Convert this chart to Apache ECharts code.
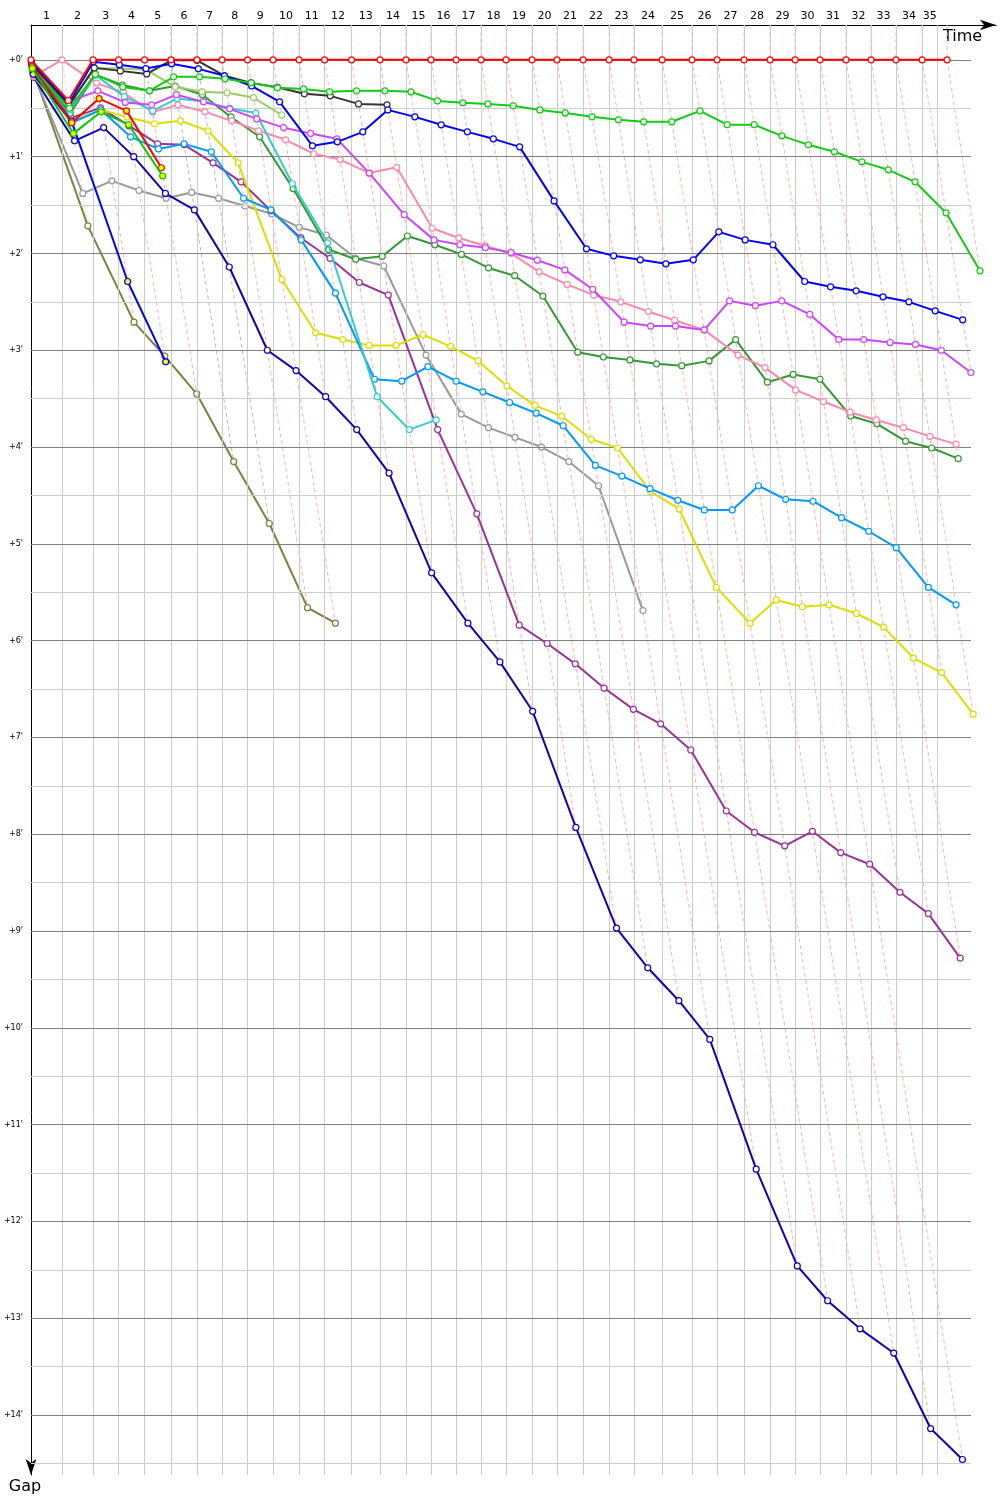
<!DOCTYPE html>
<html><head><meta charset="utf-8">
<script src="https://cdn.jsdelivr.net/npm/echarts@6/dist/echarts.min.js"></script>
<style>html,body{margin:0;padding:0;background:#fff}#c{width:1000px;height:1500px}</style>
</head><body><div id="c"></div>
<script>
// ---- data (minutes) ----
const timeLimit = 60;
// leader's cumulative race time at the end of each lap (lap 1..35)
const leaderTimes = [2.05, 4.11, 5.80, 7.52, 9.27, 10.99, 12.65, 14.34, 16.03, 17.75, 19.44, 21.23, 23.11, 24.83, 26.49, 28.15, 29.80, 31.46, 33.18, 34.83, 36.56, 38.28, 39.93, 41.79, 43.77, 45.43, 47.22, 48.94, 50.60, 52.25, 53.97, 55.63, 57.28, 59.01, 60.66];
const lapLabels = ['1','2','3','4','5','6','7','8','9','10','11','12','13','14','15','16','17','18','19','20','21','22','23','24','25','26','27','28','29','30','31','32','33','34','35'];
const gapTicks = [0,1,2,3,4,5,6,7,8,9,10,11,12,13,14];
const grayLaps = [5, 6];

// gap to leader (minutes) at the start (index 0) and after each lap
const gRed     = [0, .42, 0,0,0,0,0,0,0,0,0,0,0,0,0,0,0,0,0,0,0,0,0,0,0,0,0,0,0,0,0,0,0,0,0,0];
const gGreen   = [.1, .50, .15, .28, .32, .175, .175, .196, .238, .289, .30, .33, .32, .32, .33, .424, .444, .455, .475, .517, .548, .589, .62, .64, .64, .527, .67, .67, .785, .878, .95, 1.054, 1.136, 1.26, 1.58, 2.18];
const gBlue    = [.02, .45, .02, .05, .09, .04, .093, .165, .27, .434, .888, .847, .744, .517, .589, .671, .744, .816, .899, 1.457, 1.952, 2.025, 2.066, 2.107, 2.066, 1.777, 1.86, 1.91, 2.29, 2.345, 2.386, 2.448, 2.5, 2.593, 2.686];
const gDarkGray= [.05, .47, .083, .114, .145, .005, .005, .165, .238, .284, .351, .372, .455, .465];
const gLtGreen = [.08, .47, .083, .09, .10, .279, .33, .34, .39, .57];
const gMagenta = [.04, .43, .32, .44, .465, .36, .434, .506, .61, .70, .76, .816, 1.17, 1.60, 1.86, 1.91, 1.94, 1.99, 2.07, 2.17, 2.37, 2.71, 2.75, 2.75, 2.79, 2.49, 2.54, 2.49, 2.63, 2.89, 2.89, 2.92, 2.94, 3.0, 3.23];
const gCyan    = [.06, .52, .155, .38, .527, .40, .43, .50, .55, 1.28, 1.89, 3.48, 3.82, 3.72];
const gPink    = [.17, 0, .24, .34, .54, .465, .537, .63, .733, .826, .97, 1.03, 1.17, 1.11, 1.74, 1.84, 1.92, 2.0, 2.19, 2.32, 2.43, 2.5, 2.6, 2.69, 2.79, 3.05, 3.18, 3.41, 3.53, 3.64, 3.72, 3.80, 3.89, 3.97];
const gDkGreen = [.1, .55, .155, .26, .32, .27, .36, .59, .795, 1.33, 1.96, 2.06, 2.03, 1.82, 1.91, 2.01, 2.15, 2.23, 2.44, 3.02, 3.07, 3.10, 3.14, 3.16, 3.11, 2.89, 3.33, 3.25, 3.30, 3.68, 3.76, 3.94, 4.01, 4.12];
const gLtBlue  = [.13, .65, .517, .795, .92, .868, .95, 1.43, 1.55, 1.86, 2.41, 3.30, 3.32, 3.17, 3.32, 3.43, 3.54, 3.65, 3.78, 4.19, 4.30, 4.43, 4.55, 4.65, 4.65, 4.40, 4.54, 4.56, 4.73, 4.87, 5.04, 5.45, 5.63];
const gYellow  = [.17, .63, .517, .59, .66, .63, .733, 1.064, 2.27, 2.82, 2.89, 2.95, 2.95, 2.84, 2.96, 3.11, 3.37, 3.57, 3.68, 3.92, 4.01, 4.46, 4.64, 5.45, 5.82, 5.58, 5.65, 5.63, 5.72, 5.86, 6.18, 6.33, 6.76];
const gPurple  = [.12, .6, .496, .68, .868, .878, 1.064, 1.26, 1.56, 1.84, 2.05, 2.30, 2.43, 3.82, 4.69, 5.84, 6.03, 6.24, 6.49, 6.71, 6.86, 7.13, 7.76, 7.98, 8.12, 7.97, 8.19, 8.31, 8.6, 8.82, 9.28];
const gNavy    = [.18, .837, .70, 1.0, 1.38, 1.55, 2.14, 3.0, 3.21, 3.48, 3.82, 4.27, 5.3, 5.82, 6.22, 6.73, 7.93, 8.97, 9.38, 9.72, 10.12, 11.46, 12.46, 12.82, 13.11, 13.36, 14.14, 14.46];
const gGray    = [.14, 1.38, 1.25, 1.35, 1.43, 1.37, 1.43, 1.51, 1.59, 1.73, 1.81, 2.05, 2.13, 3.05, 3.66, 3.80, 3.9, 4.0, 4.15, 4.40, 5.69];
const gOlive   = [.1, 1.715, 2.71, 3.06, 3.45, 4.15, 4.79, 5.66, 5.82];
const gRedY    = [.07, .65, .40, .527, 1.115];
const gGreenY  = [.09, .76, .537, .67, 1.2];
const gBlueY   = [.15, .63, 2.29, 3.12];

const drivers = [
  {g: gOlive,   c: '#7f7f3f'},
  {g: gGray,    c: '#999999'},
  {g: gNavy,    c: '#1500b4'},
  {g: gPurple,  c: '#993399'},
  {g: gYellow,  c: '#dddd00'},
  {g: gLtBlue,  c: '#0099ff'},
  {g: gDkGreen, c: '#339933'},
  {g: gPink,    c: '#ff88aa'},
  {g: gCyan,    c: '#33cccc'},
  {g: gMagenta, c: '#cc44ff'},
  {g: gLtGreen, c: '#99cc66'},
  {g: gDarkGray,c: '#333333'},
  {g: gBlue,    c: '#0000ff'},
  {g: gGreen,   c: '#11cc11'},
  {g: gBlueY,   c: '#0000ff', fill: '#ffff00'},
  {g: gRedY,    c: '#ff0000', fill: '#ffff00'},
  {g: gGreenY,  c: '#00cc00', fill: '#ffff00'},
  {g: gRed,     c: '#ff0000'}
];

const yMin = -0.36, yMax = 14.62, xMax = 63.9;
const lapStart = k => (k === 0 ? 0 : leaderTimes[k - 1]);
const pts = g => g.map((v, k) => [lapStart(k) + v, v]);

// lap label positions: middle of each lap interval (clipped at time limit)
const lapLabelPos = leaderTimes.map((t, i) => (lapStart(i) + Math.min(t, timeLimit)) / 2);

const series = [];
// grid lines
const gridLines = [];
leaderTimes.filter(t => t < timeLimit).concat([timeLimit]).forEach(t => {
  gridLines.push({xAxis: t, lineStyle: {color: '#cccccc', width: 1, type: 'solid'}});
});
for (let v = 0; v <= 14.5; v += 0.5) {
  const major = Math.abs(v - Math.round(v)) < 1e-9;
  gridLines.push([{coord: [0, v], lineStyle: {color: major ? '#808080' : '#cccccc', width: 1, type: 'solid'}}, {coord: [62.25, v]}]);
}
series.push({type: 'line', data: [], silent: true, z: 0,
  markLine: {silent: true, symbol: 'none', animation: false, label: {show: false}, data: gridLines}});

// dashed lap lines
leaderTimes.forEach((t, i) => {
  const lap = i + 1;
  let gmax = 0;
  drivers.forEach(d => { if (d.g.length > lap && d.g[lap] > gmax) gmax = d.g[lap]; });
  const gray = grayLaps.indexOf(lap) >= 0;
  series.push({type: 'line', silent: true, z: 1, showSymbol: false, symbol: 'none',
    data: [[t, yMin], [t, 0], [t + gmax, gmax]],
    lineStyle: {color: gray ? '#bbbbbb' : (lap === 1 ? '#ffd6de' : '#ffb0b0'), width: 1, type: [4, 3]}});
});

drivers.forEach((d, i) => {
  series.push({type: 'line', z: 3 + i, data: pts(d.g), symbol: 'circle', symbolSize: 6,
    showAllSymbol: true,
    lineStyle: {color: d.c, width: 2},
    itemStyle: {color: d.fill || '#ffffff', borderColor: d.c, borderWidth: 1.2}});
});

const chart = echarts.init(document.getElementById('c'), null, {renderer: 'canvas'});
chart.setOption({
  animation: false,
  backgroundColor: '#ffffff',
  grid: {left: 31, right: 4, top: 25, bottom: 25, containLabel: false},
  xAxis: {type: 'value', position: 'top', min: 0, max: xMax,
    name: 'Time', nameLocation: 'end', nameGap: -53,
    nameTextStyle: {fontSize: 16, color: '#000', fontFamily: 'DejaVu Sans', verticalAlign: 'top', padding: [4, 0, 0, 0]},
    axisLine: {show: true, onZero: false, lineStyle: {color: '#000', width: 1}, symbol: ['none', 'arrow'], symbolSize: [8, 16]},
    axisTick: {show: false}, splitLine: {show: false},
    axisLabel: {customValues: lapLabelPos, margin: 3, fontSize: 11, color: '#000', fontFamily: 'DejaVu Sans',
      formatter: v => { const i = lapLabelPos.findIndex(p => Math.abs(p - v) < 1e-6); return i >= 0 ? lapLabels[i] : ''; }}
  },
  yAxis: {type: 'value', inverse: true, min: yMin, max: yMax,
    name: 'Gap', nameLocation: 'end', nameGap: 4,
    nameTextStyle: {fontSize: 16, color: '#000', fontFamily: 'DejaVu Sans', padding: [0, 12, 0, 0]},
    axisLine: {show: true, onZero: false, lineStyle: {color: '#000', width: 1}, symbol: ['arrow', 'none'], symbolSize: [8, 16]},
    axisTick: {show: false}, splitLine: {show: false},
    axisLabel: {customValues: gapTicks, margin: 8, fontSize: 8, color: '#000', fontFamily: 'DejaVu Sans',
      formatter: v => '+' + v + '\''}
  },
  series: series
});
</script></body></html>
